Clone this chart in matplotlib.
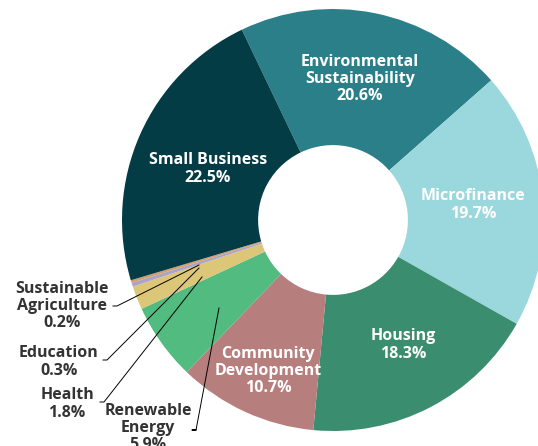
import matplotlib
matplotlib.use("Agg")
import matplotlib.pyplot as plt

# data
categories = ["Environmental\nSustainability", "Microfinance", "Housing",
              "Community\nDevelopment", "Renewable\nEnergy", "Health",
              "Education", "Sustainable\nAgriculture", "Small Business"]
shares = [20.6, 19.7, 18.3, 10.7, 5.9, 1.8, 0.3, 0.2, 22.5]
colors = ["#2b7f89", "#9bd8de", "#3b8d6f", "#b67f7e", "#52bb80",
          "#dcc677", "#a9a4c8", "#d79c6c", "#033c44"]

W, H = 538, 446
fig = plt.figure(figsize=(W / 100, H / 100), dpi=100)
ax = fig.add_axes([0, 0, 1, 1])

cx, cy, r = 333, H - 220, 211
ax.pie(shares, colors=colors, startangle=115.6, counterclock=False,
       center=(cx, cy), radius=r, frame=True,
       wedgeprops=dict(width=r * 0.645, linewidth=0))
ax.set_xlim(0, W)
ax.set_ylim(0, H)
ax.set_aspect("equal")
ax.axis("off")

font = ["Open Sans", "DejaVu Sans"]
txt = dict(fontsize=11.5, fontweight="bold", family=font,
           ha="center", va="center", linespacing=1.1)

def lbl(i):
    return "%s\n%.1f%%" % (categories[i], shares[i])

# labels inside the ring (x, y in pixel from top)
inside = {0: (360, 79), 1: (473, 205), 2: (403, 345), 3: (268, 371), 8: (208, 169)}
for i, (x, y) in inside.items():
    ax.text(x, H - y, lbl(i), color="white", **txt)

# outside labels with leader lines
dark = "#333333"
outside = {
    7: ((62, 306), [(113, 306), (117, 306), (199, 265)]),
    6: ((59, 362), [(103, 360), (107, 360), (199, 268)]),
    5: ((67, 404), [(100, 402), (104, 402), (202, 277)]),
    4: ((148, 428), [(196, 430), (192, 430), (196, 430), (219, 308)]),
}
for i, ((x, y), pts) in outside.items():
    ax.text(x, H - y, lbl(i), color=dark, **txt)
    ax.plot([p[0] for p in pts], [H - p[1] for p in pts],
            color="black", lw=0.7)

fig.savefig("out.png", dpi=100)
